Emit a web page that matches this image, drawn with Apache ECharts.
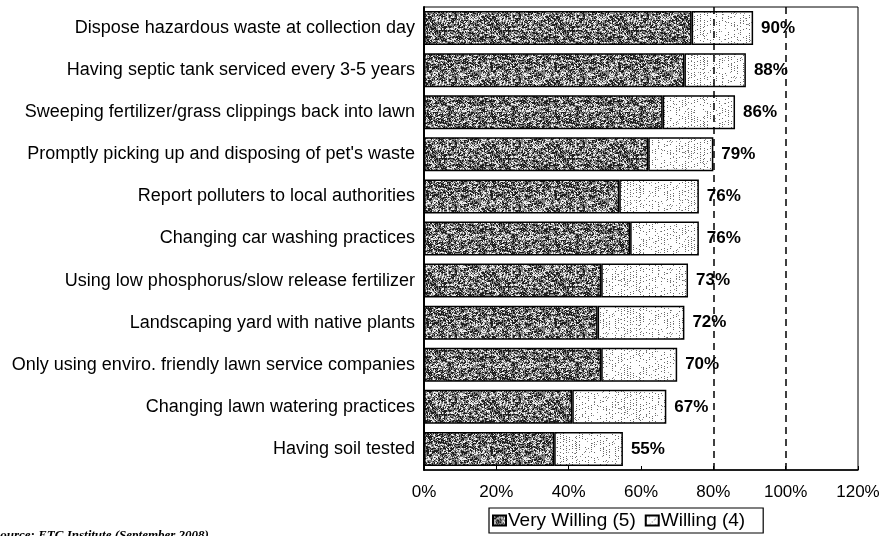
<!DOCTYPE html>
<html>
<head>
<meta charset="utf-8">
<script src="https://cdn.jsdelivr.net/npm/echarts@6/dist/echarts.min.js"></script>
<style>
html,body{margin:0;padding:0;background:#fff;}
#chart{width:886px;height:536px;}
</style>
</head>
<body>
<div id="chart"></div>
<script>
// ---- data ----
const categories = [
  "Dispose hazardous waste at collection day",
  "Having septic tank serviced every 3-5 years",
  "Sweeping fertilizer/grass clippings back into lawn",
  "Promptly picking up and disposing of pet's waste",
  "Report polluters to local authorities",
  "Changing car washing practices",
  "Using low phosphorus/slow release fertilizer",
  "Landscaping yard with native plants",
  "Only using enviro. friendly lawn service companies",
  "Changing lawn watering practices",
  "Having soil tested"
];
const veryWilling = [74, 72, 66, 62, 54, 57, 49, 48, 49, 41, 36];
const willing     = [17, 17, 20, 18, 22, 19, 24, 24, 21, 26, 19];
const totals      = [90, 88, 86, 79, 76, 76, 73, 72, 70, 67, 55];
const xTicks      = [0, 20, 40, 60, 80, 100, 120];
const refLines    = [80, 100];
const sourceNote  = "Source: ETC Institute (September 2008)";

// ---- textures (deterministic) ----
function hash(x, y) {
  const s = Math.sin(x * 12.9898 + y * 78.233) * 43758.5453;
  return s - Math.floor(s);
}
function makePattern(kind) {
  const n = 64;
  const c = document.createElement('canvas');
  c.width = n; c.height = n;
  const ctx = c.getContext('2d');
  const img = ctx.createImageData(n, n);
  for (let y = 0; y < n; y++) {
    for (let x = 0; x < n; x++) {
      const h = hash(x, y);
      let v;
      if (kind === 'dark') {
        const h2 = hash(Math.floor(x / 3), Math.floor(y / 2) + 97);
        const t = 0.6 * h + 0.4 * h2;
        v = t < 0.40 ? 30 : (t < 0.66 ? 130 : 235);
      } else {
        v = 255;
        if (((x + 3 * y) % 6 === 0) && h < 0.5) v = 105;
        else if (h < 0.02) v = 150;
      }
      const i = (y * n + x) * 4;
      img.data[i] = v; img.data[i + 1] = v; img.data[i + 2] = v; img.data[i + 3] = 255;
    }
  }
  ctx.putImageData(img, 0, 0);
  return { image: c, repeat: 'repeat' };
}
const darkFill = makePattern('dark');
const lightFill = makePattern('light');

const chart = echarts.init(document.getElementById('chart'), null, { renderer: 'canvas' });
const font = '"Liberation Sans", Arial, sans-serif';

chart.setOption({
  animation: false,
  backgroundColor: '#fff',
  grid: {
    left: 424, right: 28, top: 7, bottom: 66,
    show: true, borderColor: '#000', borderWidth: 1
  },
  xAxis: {
    type: 'value',
    min: xTicks[0], max: xTicks[xTicks.length - 1], interval: xTicks[1] - xTicks[0],
    axisLine: { show: true, lineStyle: { color: '#000', width: 1.5 } },
    axisTick: { show: true, inside: true, length: 4, lineStyle: { color: '#000' } },
    splitLine: { show: false },
    axisLabel: { formatter: '{value}%', color: '#000', fontSize: 17, fontFamily: font, margin: 14 }
  },
  yAxis: {
    type: 'category',
    inverse: true,
    data: categories,
    axisLine: { show: true, lineStyle: { color: '#000', width: 2 } },
    axisTick: { show: false },
    axisLabel: { color: '#000', fontSize: 18, fontFamily: font, margin: 9 }
  },
  legend: {
    left: 489, top: 508,
    data: ['Very Willing (5)', 'Willing (4)'],
    icon: 'rect',
    itemWidth: 13, itemHeight: 10, itemGap: 9,
    borderColor: '#000', borderWidth: 1.2,
    padding: [3, 18, 3, 3],
    textStyle: { color: '#000', fontSize: 19, fontFamily: font, padding: [0, 0, 0, -3] }
  },
  graphic: [{
    type: 'text', left: -7, top: 529,
    style: { text: sourceNote, font: 'italic bold 13px "Liberation Serif", serif', fill: '#000' }
  }],
  series: [
    {
      name: 'Very Willing (5)',
      type: 'bar', stack: 'total', barWidth: 34,
      data: veryWilling,
      itemStyle: { color: darkFill, borderColor: '#000', borderWidth: 1.5 },
      markLine: {
        silent: true, symbol: 'none',
        label: { show: false },
        lineStyle: { color: '#000', type: [7, 5], width: 1.5 },
        data: refLines.map(v => ({ xAxis: v }))
      }
    },
    {
      name: 'Willing (4)',
      type: 'bar', stack: 'total', barWidth: 34,
      data: willing,
      itemStyle: { color: lightFill, borderColor: '#000', borderWidth: 1.5 },
      label: {
        show: true, position: 'right', distance: 8,
        formatter: p => totals[p.dataIndex] + '%',
        color: '#000', fontWeight: 'bold', fontSize: 17, fontFamily: font
      }
    }
  ]
});
</script>
</body>
</html>
